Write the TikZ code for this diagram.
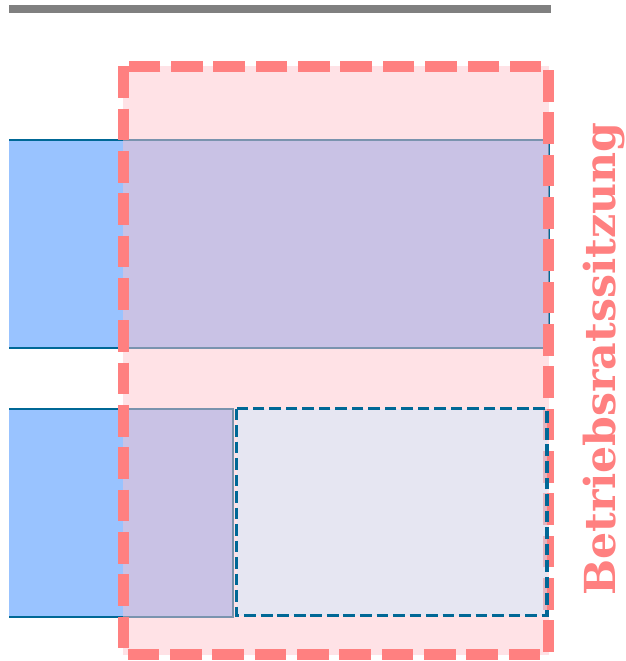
\documentclass[tikz,border=0pt]{standalone}
\usepackage{fontspec}
\newfontfamily\meetfont{DejaVu Serif}
\usetikzlibrary{positioning}

\definecolor{barblue}{RGB}{153,195,255}
\definecolor{edgeblue}{RGB}{0,104,150}
\definecolor{meetpink}{RGB}{255,128,128}
\definecolor{meetfill}{RGB}{255,194,202}
\definecolor{slotfill}{RGB}{205,234,254}

\begin{document}
\begin{tikzpicture}[x=0.02cm, y=-0.02cm,
   bar/.style={fill=barblue},
   edge/.style={draw=edgeblue, line width=1.1pt},
   meeting/.style={draw=meetpink, line width=6.1pt, dash pattern=on 18pt off 6.1pt},
   slot/.style={draw=edgeblue, line width=2pt, dash pattern=on 6.6pt off 2.8pt,
                fill=slotfill, fill opacity=0.5}]
   \useasboundingbox (0,0) rectangle (625,661);

   % time line
   \draw[gray, line width=5.1pt] (9,9) -- (551,9);

   % upper and lower bars
   \fill[bar] (9,140) rectangle (549,347.7);
   \draw[edge] (9,140) -- (549,140) -- (549,347.7) -- (9,347.7);
   \fill[bar] (9,409.3) rectangle (233.3,616.7);
   \draw[edge, line width=1.3pt] (9,409.3) -- (233.3,409.3) -- (233.3,616.7) -- (9,616.7);

   % meeting block
   \fill[meetfill, fill opacity=0.48] (123.3,66.3) rectangle (548.5,654.7);
   \draw[meeting] (123.3,66.3) rectangle (548.5,654.7);
   \draw[slot] (236.7,408.7) rectangle (547.2,615.7);

   \node (meet) at (615,359) [rotate=90, anchor=base, inner sep=0pt, text=meetpink]
      {\fontsize{24.3}{29}\selectfont\meetfont\bfseries Betriebsratssitzung};
\end{tikzpicture}
\end{document}
